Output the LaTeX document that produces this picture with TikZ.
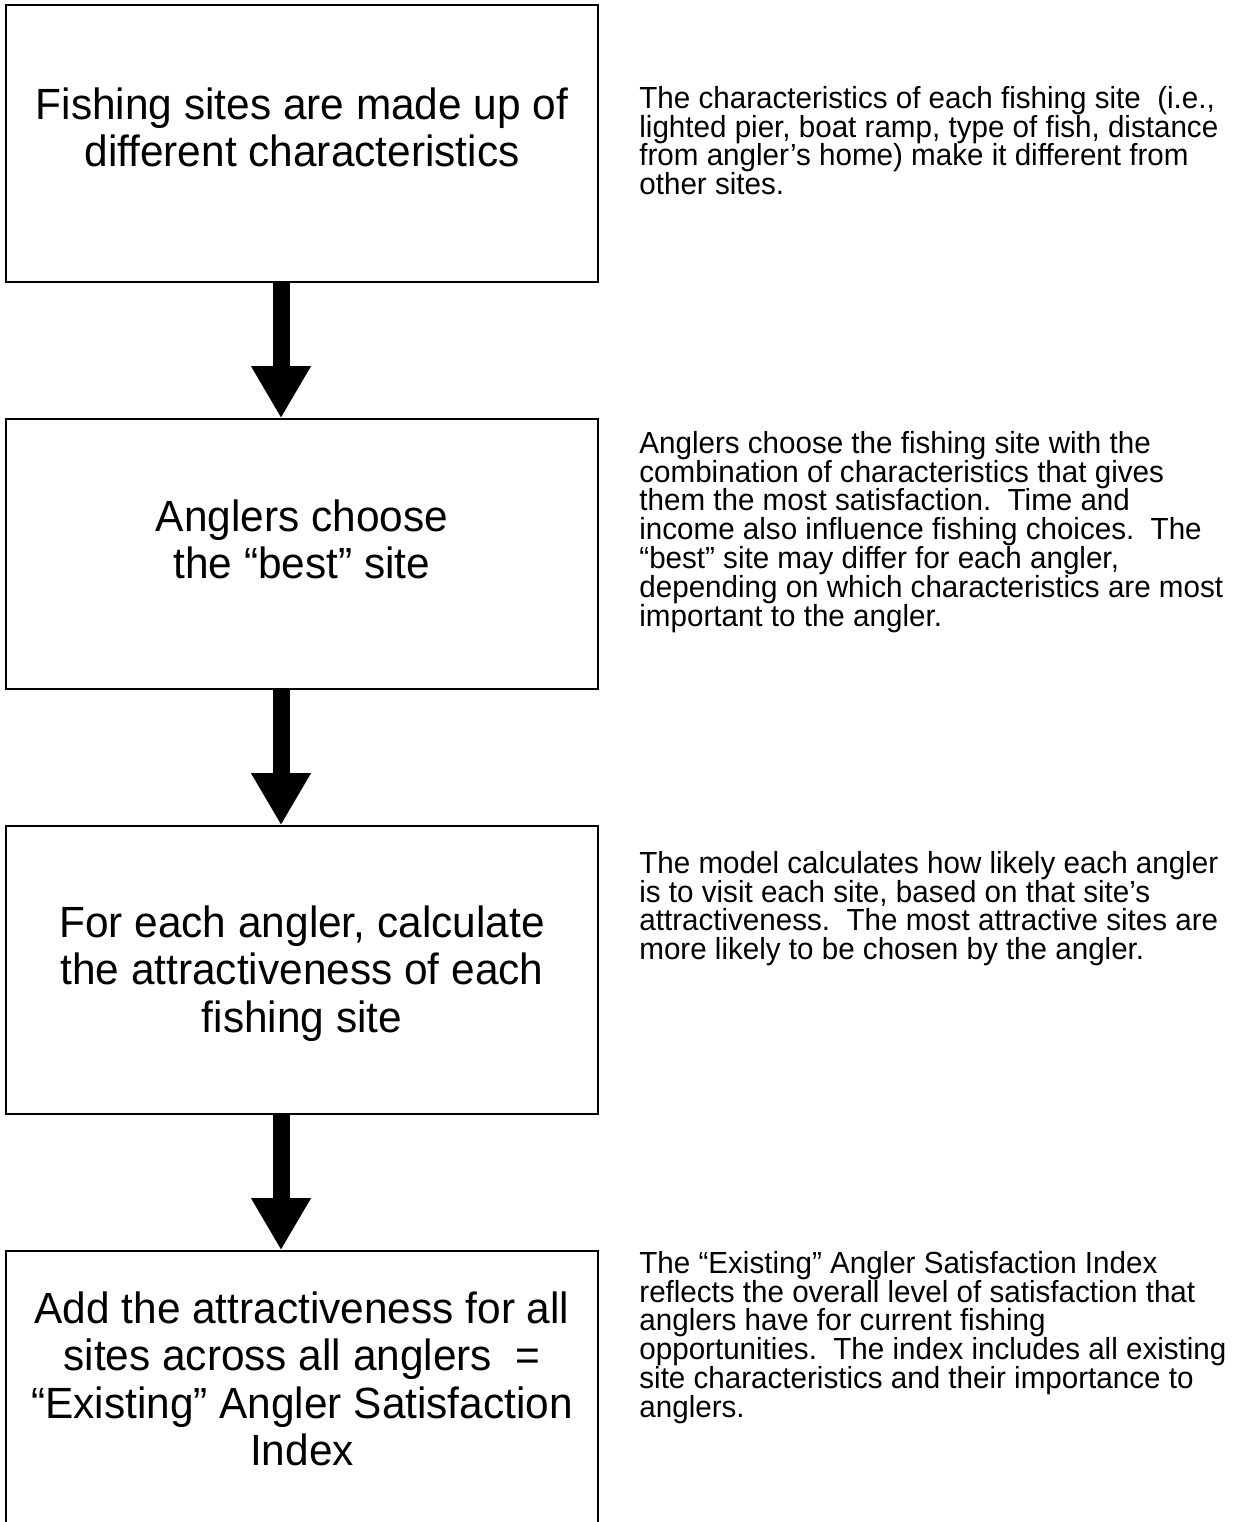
\documentclass[tikz,border=0pt]{standalone}
\usepackage{fontspec}
\setmainfont{Liberation Sans}
\newfontfamily\tallfont[FakeStretch=0.97]{Liberation Sans}
\usetikzlibrary{arrows.meta}
\newcommand\stepfont{\tallfont\fontsize{21.85}{23.6}\selectfont\lineskiplimit=-20pt\relax}
\newcommand\notefont{\tallfont\fontsize{15.25}{14.4}\selectfont\lineskiplimit=-20pt\relax}
\begin{document}
\begin{tikzpicture}[x=.5pt,y=-.5pt,line join=miter]
			\tikzset{box style/.style={draw,line width=.8pt,minimum width=296pt,inner sep=0pt},
				step text/.style={anchor=north,align=center,inner sep=0pt,font=\stepfont},
				note style/.style={anchor=north west,align=left,inner sep=0pt,font=\notefont},
				flow arrow/.style={line width=8.5pt,-{Triangle[length=26pt,width=28pt]}}}
			\useasboundingbox (0,0) rectangle (1234,1522);
			\clip (0,0) rectangle (1234,1522);
			\node[box style,minimum height=138.5pt] (b1) at (302,143.5) {};
			\node[box style,minimum height=135pt] (b2) at (302,554) {};
			\node[box style,minimum height=144pt] (b3) at (302,970) {};
			\node[box style,minimum height=150pt] (b4) at (302,1401) {};
			\foreach \a/\b in {b1/b2,b2/b3,b3/b4}
			\draw[flow arrow] ([xshift=-10.5pt]\a.south) -- ([xshift=-10.5pt]\b.north);
			% texts inside the boxes
			\node[step text] (t1) at ([yshift=-41.7pt]b1.north) {Fishing sites are made up of\\different characteristics};
			\node[step text] (t2) at ([yshift=-40.7pt]b2.north) {Anglers choose\\the “best” site};
			\node[step text] (t3) at ([yshift=-40.2pt]b3.north) {For each angler, calculate\\the attractiveness of each\\fishing site};
			\node[step text] (t4) at ([yshift=-20.7pt]b4.north) {Add the attractiveness for all\\sites across all anglers\ \ =\\“Existing” Angler Satisfaction\\Index};
			% notes on the right
			\node[note style] (n1) at (639,85.7) {The characteristics of each fishing site\ \ (i.e.,\\lighted pier, boat ramp, type of fish, distance\\from angler’s home) make it different from\\other sites.};
			\node[note style] (n2) at (639,430.7) {Anglers choose the fishing site with the\\combination of characteristics that gives\\them the most satisfaction.\ \ Time and\\income also influence fishing choices.\ \ The\\“best” site may differ for each angler,\\depending on which characteristics are most\\important to the angler.};
			\node[note style] (n3) at (639,850.7) {The model calculates how likely each angler\\is to visit each site, based on that site’s\\attractiveness.\ \ The most attractive sites are\\more likely to be chosen by the angler.};
			\node[note style] (n4) at (639,1250.7) {The “Existing” Angler Satisfaction Index\\reflects the overall level of satisfaction that\\anglers have for current fishing\\opportunities.\ \ The index includes all existing\\site characteristics and their importance to\\anglers.};
		\end{tikzpicture}
\end{document}
